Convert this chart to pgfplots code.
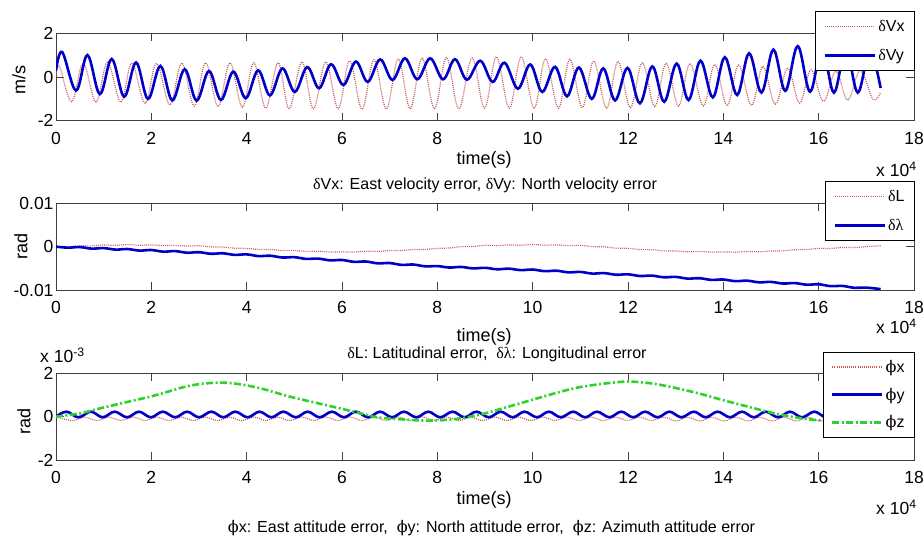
\documentclass[border=0pt]{standalone}
\usepackage{fontspec}
\setmainfont{Liberation Sans}
\newfontfamily\grk{Liberation Serif}
\newfontfamily\phif{DejaVu Serif}
\usepackage{pgfplots}
\pgfplotsset{compat=1.18}
\definecolor{vred}{RGB}{200,90,90}
\definecolor{vblue}{RGB}{0,0,200}
\definecolor{vgreen}{RGB}{45,210,45}
\newcommand{\dl}{{\grk δ}}
\newcommand{\lam}{{\grk λ}}
\newcommand{\ph}{{\phif ϕ}}
\newcommand{\fs}{\fontsize{16bp}{19bp}\selectfont}
\newcommand{\fl}{\fontsize{18bp}{21bp}\selectfont}
\newcommand{\ft}{\fontsize{17.5bp}{20bp}\selectfont}
\pgfplotsset{
  myax/.style={
    scale only axis, width=858bp, height=87bp,
    xmin=0, xmax=18, xtick={0,2,...,18},
    xticklabels={0,2,4,6,8,10,12,14,16,18},
    scaled x ticks=false, scaled y ticks=false,
    tick align=inside, tick pos=both, major tick length=8bp,
    axis line style={black!75, line width=0.8bp},
    every tick/.style={black!75, line width=0.8bp},
    tick label style={font=\ft},
    xticklabel style={yshift=-8bp},
    yticklabel style={xshift=1bp},
    legend style={draw=black, fill=white, line width=0.6bp, font=\fs,
      anchor=north east, inner xsep=8bp, inner ysep=7bp,
      row sep=12bp, nodes={inner sep=2bp}},
    legend cell align=left,
    legend image code/.code={\draw[#1] (0bp,0bp) -- (50bp,0bp);},
  },
  redl/.style={color=vred, line width=1.2bp, dash pattern=on 1bp off 1.1bp, smooth, tension=0.6},
  bluel/.style={color=vblue, line width=2.6bp, smooth, tension=0.6},
  greenl/.style={color=vgreen, line width=2.6bp, dash pattern=on 7bp off 2.5bp on 2bp off 2.5bp, smooth},
}
\begin{document}
\begin{tikzpicture}
\useasboundingbox (0,0) rectangle (924bp,541bp);
% ---------------- panel 1
\begin{axis}[myax, at={(56bp,420.3bp)}, anchor=south west, height=87.2bp,
  ymin=-2, ymax=2, ytick={-2,0,2}, yticklabels={-2,0,2},
  legend style={at={(rel axis cs:1.001,1.259)}}]
\addplot[redl] coordinates {
(0,0) (0.07,0.5) (0.33,-1.13) (0.57,0.63) (0.84,-1.15) (1.08,0.68) (1.36,-1.15)
(1.59,0.63) (1.87,-1.2) (2.11,0.63) (2.39,-1.28) (2.64,0.65) (2.90,-1.33)
(3.14,0.66) (3.40,-1.36) (3.65,0.66) (3.91,-1.39) (4.15,0.66) (4.40,-1.42)
(4.66,0.66) (4.89,-1.45) (5.16,0.70) (5.40,-1.46) (5.66,0.70) (5.92,-1.46)
(6.16,0.74) (6.42,-1.47) (6.67,0.79) (6.93,-1.46) (7.18,0.83) (7.43,-1.45)
(7.68,0.87) (7.94,-1.45) (8.19,0.90) (8.45,-1.45) (8.73,0.88) (8.99,-1.43)
(9.24,0.93) (9.51,-1.43) (9.76,0.93) (10.03,-1.43) (10.27,0.84) (10.54,-1.43)
(10.78,0.82) (11.04,-1.40) (11.28,0.73) (11.55,-1.42) (11.79,0.71) (12.05,-1.40)
(12.30,0.66) (12.56,-1.36) (12.80,0.63) (13.06,-1.33) (13.30,0.63) (13.58,-1.32)
(13.82,0.58) (14.08,-1.32) (14.32,0.55) (14.59,-1.30) (14.83,0.48) (15.09,-1.24)
(15.35,0.40) (15.60,-1.20) (15.84,0.33) (16.10,-1.12) (16.36,0.27) (16.61,-1.06)
(16.87,0.29) (17.14,-1.02) (17.30,-0.7)};
\addlegendentry{\dl Vx}
\addplot[bluel] coordinates {
(0,0.3) (0.13,1.15) (0.42,-0.62) (0.66,1.01) (0.92,-0.78) (1.17,0.83) (1.43,-0.9)
(1.68,0.67) (1.93,-1.0) (2.19,0.51) (2.44,-1.07) (2.70,0.36) (2.95,-1.08)
(3.21,0.28) (3.46,-1.05) (3.72,0.25) (3.98,-0.97) (4.24,0.31) (4.49,-0.84)
(4.75,0.40) (5.01,-0.68) (5.27,0.46) (5.52,-0.51) (5.77,0.59) (6.03,-0.36)
(6.29,0.71) (6.54,-0.22) (6.80,0.81) (7.06,-0.13) (7.32,0.86) (7.58,-0.10)
(7.85,0.86) (8.12,-0.10) (8.37,0.82) (8.62,-0.12) (8.90,0.75) (9.16,-0.22)
(9.41,0.66) (9.69,-0.53) (9.95,0.58) (10.20,-0.68) (10.47,0.47) (10.72,-0.88)
(10.97,0.44) (11.24,-1.0) (11.48,0.40) (11.73,-1.07) (11.99,0.42) (12.25,-1.2)
(12.51,0.49) (12.76,-1.13) (13.02,0.62) (13.27,-1.05) (13.52,0.75) (13.78,-0.93)
(14.03,0.91) (14.29,-0.82) (14.54,1.09) (14.80,-0.71) (15.05,1.26) (15.30,-0.63)
(15.56,1.42) (15.82,-0.67) (16.07,1.35) (16.32,-0.71) (16.57,1.3) (16.82,-0.71)
(17.07,1.2) (17.30,-0.5)};
\addlegendentry{\dl Vy}
\end{axis}
% ---------------- panel 2
\begin{axis}[myax, at={(56bp,251bp)}, anchor=south west, height=86.7bp,
  ymin=-0.01, ymax=0.01, ytick={-0.01,0,0.01}, yticklabels={-0.01,0,0.01},
  legend style={at={(rel axis cs:1.001,1.257)}}]
\addplot[redl] coordinates {
(0,0) (0.25,-0.00002) (0.5,0.0002) (0.75,0.000175) (1,0.00039) (1.25,0.00031)
(1.5,0.00047) (1.75,0.000315) (2,0.0004) (2.25,0.00023) (2.5,0.0003) (2.75,0.00013)
(3,0.0002) (3.25,-0.00007) (3.5,-0.0001) (3.75,-0.00037) (4,-0.0004) (4.25,-0.000645)
(4.5,-0.00065) (4.75,-0.000895) (5,-0.0009) (5.25,-0.001095) (5.5,-0.00105) (5.75,-0.001245)
(6,-0.0012) (6.25,-0.001245) (6.5,-0.00105) (6.75,-0.001095) (7,-0.0009) (7.25,-0.000895)
(7.5,-0.00065) (7.75,-0.000645) (8,-0.0004) (8.25,-0.00032) (8.5,0) (8.75,0.00003)
(9,0.0003) (9.25,0.00023) (9.5,0.0004) (9.75,0.00033) (10,0.0005) (10.25,0.00033)
(10.5,0.0004) (10.75,0.00023) (11,0.0003) (11.25,0.000005) (11.5,-0.00005) (11.75,-0.000345)
(12,-0.0004) (12.25,-0.00067) (12.5,-0.0007) (12.75,-0.00097) (13,-0.001) (13.25,-0.00117)
(13.5,-0.0011) (13.75,-0.00127) (14,-0.0012) (14.25,-0.00127) (14.5,-0.0011) (14.75,-0.00117)
(15,-0.001) (15.25,-0.00097) (15.5,-0.0007) (15.75,-0.00067) (16,-0.0004) (16.25,-0.00042)
(16.5,-0.0002) (16.75,-0.00022) (17,0) (17.3,0.0002)};
\addlegendentry{\dl L}
\addplot[bluel] coordinates {
(0,0) (0.25,-0.00023) (0.5,-0.0001) (0.75,-0.00046) (1,-0.00033) (1.25,-0.00068)
(1.5,-0.00055) (1.75,-0.00091) (2,-0.00078) (2.25,-0.00115) (2.5,-0.00103) (2.75,-0.0014)
(3,-0.00128) (3.25,-0.00165) (3.5,-0.00153) (3.75,-0.0019) (4,-0.00178) (4.25,-0.00218)
(4.5,-0.0021) (4.75,-0.00251) (5,-0.00243) (5.25,-0.00283) (5.5,-0.00275) (5.75,-0.00316)
(6,-0.00308) (6.25,-0.0035) (6.5,-0.00343) (6.75,-0.00385) (7,-0.00378) (7.25,-0.0042)
(7.5,-0.00413) (7.75,-0.00455) (8,-0.00448) (8.25,-0.00482) (8.5,-0.00468) (8.75,-0.00502)
(9,-0.00488) (9.25,-0.00522) (9.5,-0.00508) (9.75,-0.00542) (10,-0.00528) (10.25,-0.00566)
(10.5,-0.00555) (10.75,-0.00593) (11,-0.00583) (11.25,-0.00621) (11.5,-0.0061) (11.75,-0.00648)
(12,-0.00638) (12.25,-0.00677) (12.5,-0.00668) (12.75,-0.00707) (13,-0.00698) (13.25,-0.00737)
(13.5,-0.00728) (13.75,-0.00767) (14,-0.00758) (14.25,-0.00796) (14.5,-0.00785) (14.75,-0.00823)
(15,-0.00813) (15.25,-0.00851) (15.5,-0.0084) (15.75,-0.00878) (16,-0.00868) (16.25,-0.00911)
(16.5,-0.00906) (16.75,-0.0095) (17,-0.00945) (17.3,-0.0098)};
\addlegendentry{\dl\lam}
\end{axis}
% ---------------- panel 3 (values in units of 1e-3)
\begin{axis}[myax, at={(56bp,81bp)}, anchor=south west, height=86.7bp,
  ymin=-2, ymax=2, ytick={-2,0,2}, yticklabels={-2,0,2},
  legend style={at={(rel axis cs:1.001,1.246)}, row sep=10bp, inner ysep=6bp}]
\addplot[redl] coordinates {
(0,0) (0.35,-0.18) (0.60,-0.02) (0.86,-0.18) (1.11,-0.02) (1.36,-0.18) (1.62,-0.02)
(1.87,-0.18) (2.12,-0.02) (2.37,-0.18) (2.63,-0.02) (2.88,-0.18) (3.13,-0.02)
(3.39,-0.18) (3.64,-0.02) (3.89,-0.18) (4.15,-0.02) (4.40,-0.18) (4.65,-0.02)
(4.90,-0.18) (5.16,-0.02) (5.41,-0.18) (5.66,-0.02) (5.92,-0.18) (6.17,-0.02)
(6.42,-0.18) (6.68,-0.02) (6.93,-0.18) (7.18,-0.02) (7.43,-0.18) (7.69,-0.02)
(7.94,-0.18) (8.19,-0.02) (8.45,-0.18) (8.70,-0.02) (8.95,-0.18) (9.21,-0.02)
(9.46,-0.18) (9.71,-0.02) (9.96,-0.18) (10.22,-0.02) (10.47,-0.18) (10.72,-0.02)
(10.98,-0.18) (11.23,-0.02) (11.48,-0.18) (11.74,-0.02) (11.99,-0.18) (12.24,-0.02)
(12.49,-0.18) (12.75,-0.02) (13.00,-0.2) (13.25,-0.03) (13.51,-0.2) (13.76,-0.03)
(14.01,-0.2) (14.27,-0.03) (14.52,-0.2) (14.77,-0.03) (15.02,-0.2) (15.28,-0.03)
(15.53,-0.2) (15.78,-0.03) (16.04,-0.2) (16.29,-0.03) (16.54,-0.2) (16.80,-0.03)
(17.05,-0.2) (17.3,-0.06)};
\addlegendentry{\ph x}
\addplot[bluel] coordinates {
(0,0) (0.22,0.23) (0.47,-0.03) (0.73,0.23) (0.98,-0.03) (1.23,0.23) (1.49,-0.03)
(1.74,0.23) (1.99,-0.03) (2.24,0.23) (2.50,-0.03) (2.75,0.23) (3.00,-0.03)
(3.26,0.23) (3.51,-0.03) (3.76,0.23) (4.02,-0.03) (4.27,0.23) (4.52,-0.03)
(4.77,0.23) (5.03,-0.03) (5.28,0.23) (5.53,-0.03) (5.79,0.23) (6.04,-0.03)
(6.29,0.23) (6.55,-0.03) (6.80,0.23) (7.05,-0.03) (7.30,0.23) (7.56,-0.03)
(7.81,0.23) (8.06,-0.03) (8.32,0.23) (8.57,-0.03) (8.82,0.23) (9.08,-0.03)
(9.33,0.23) (9.58,-0.03) (9.83,0.23) (10.09,-0.03) (10.34,0.23) (10.59,-0.03)
(10.85,0.23) (11.10,-0.03) (11.35,0.23) (11.61,-0.03) (11.86,0.23) (12.11,-0.03)
(12.36,0.23) (12.62,-0.03) (12.87,0.23) (13.12,-0.03) (13.38,0.23) (13.63,-0.03)
(13.88,0.23) (14.14,-0.03) (14.39,0.23) (14.64,-0.03) (14.89,0.23) (15.15,-0.03)
(15.40,0.23) (15.65,-0.03) (15.91,0.23) (16.16,-0.03) (16.41,0.23) (16.67,-0.03)
(16.92,0.23) (17.17,-0.03) (17.3,0.08)};
\addlegendentry{\ph y}
\addplot[greenl] coordinates {
(0,0) (0.5,0.15) (0.92,0.38) (1.5,0.68) (1.97,0.92) (2.3,1.12) (2.67,1.36)
(3.0,1.50) (3.3,1.56) (3.6,1.56) (3.93,1.47) (4.2,1.35) (4.42,1.23) (4.91,0.92)
(5.47,0.63) (5.96,0.38) (6.38,0.16) (6.73,-0.03) (7.22,-0.12) (7.71,-0.18)
(8.12,-0.16) (8.54,-0.06) (9.0,0.15) (9.49,0.46) (9.98,0.77) (10.47,1.08)
(10.96,1.35) (11.52,1.53) (12.0,1.62) (12.5,1.53) (12.92,1.36) (13.47,1.08)
(14.03,0.74) (14.52,0.46) (15.01,0.18) (15.43,0.0) (15.85,-0.14) (16.3,-0.2)
(16.8,-0.22) (17.3,-0.2)};
\addlegendentry{\ph z}
\end{axis}
% ---------------- labels
\begin{scope}[every node/.style={font=\fl, inner sep=0pt}]
\node[rotate=90] at (19bp,461bp) {m/s};
\node[rotate=90] at (21bp,295bp) {rad};
\node[rotate=90] at (24bp,120bp) {rad};
\node at (484bp,381bp) {time(s)};
\node at (484bp,204bp) {time(s)};
\node at (484bp,41bp) {time(s)};
\node[anchor=west, font=\ft] at (876bp,372bp) {x 10\textsuperscript{4}};
\node[anchor=west, font=\ft] at (876bp,215bp) {x 10\textsuperscript{4}};
\node[anchor=west, font=\ft] at (876bp,34bp) {x 10\textsuperscript{4}};
\node[anchor=west, font=\ft] at (40bp,186bp) {x 10\textsuperscript{-3}};
\end{scope}
\begin{scope}[every node/.style={font=\fs, inner sep=0pt}]
\node at (485bp,356bp) {\dl Vx: East velocity error, \dl Vy: North velocity error};
\node at (497bp,187bp) {\dl L: Latitudinal error,\ \ \dl\lam: Longitudinal error};
\node at (491.5bp,13bp) {\ph x: East attitude error,\ \ \ph y: North attitude error,\ \ \ph z: Azimuth attitude error};
\end{scope}
\end{tikzpicture}
\end{document}
